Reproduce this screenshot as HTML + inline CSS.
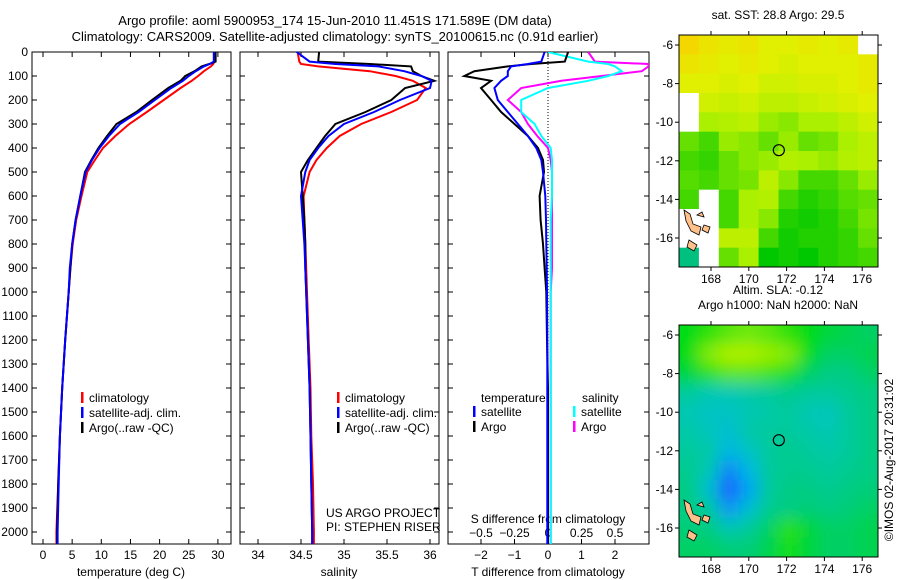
<!DOCTYPE html>
<html><head><meta charset="utf-8"><style>
body{margin:0;background:#fff}
svg{display:block;font-family:"Liberation Sans",sans-serif;font-size:12px}
</style></head><body>
<svg id="fig" width="900" height="580" xmlns="http://www.w3.org/2000/svg">
<text x="335" y="25" text-anchor="middle" font-size="13">Argo profile: aoml 5900953_174 15-Jun-2010 11.451S 171.589E (DM data)</text>
<text x="335" y="41" text-anchor="middle" font-size="13">Climatology: CARS2009. Satellite-adjusted climatology: synTS_20100615.nc (0.91d earlier)</text>
<g id="p1"></g>
<g id="p2"></g>
<g id="p3"></g>
<g id="m1"></g>
<g id="m2"></g>
<text transform="translate(893,460) rotate(-90)" text-anchor="middle">©IMOS 02-Aug-2017 20:31:02</text>
</svg>
<script>
const depth=[0,40,50,60,80,100,120,150,200,250,300,350,400,450,500,600,700,800,900,1000,1200,1400,1600,1800,2000,2050];
const tArgo=[29.6,29.6,28.5,27.2,26,24.4,23.6,21.5,18.7,16,12.6,11,9.5,8.3,7.2,6.4,5.6,5,4.7,4.4,3.8,3.3,2.9,2.6,2.4,2.4];
const tClim=[29.4,29.4,29.2,28.8,27.6,26.6,25.5,23.6,20.7,17.8,14.8,12.4,10.3,8.9,7.6,6.6,5.7,5.1,4.7,4.4,3.8,3.3,2.9,2.6,2.3,2.3];
const tSat=[29.3,29.3,28.6,27.6,26.2,25,24,22,19.2,16.4,13.2,11.3,9.7,8.4,7.3,6.4,5.6,5,4.6,4.4,3.8,3.3,2.9,2.7,2.5,2.5];
const sArgo=[34.71,34.7,35.3,35.78,35.8,35.9,36.05,35.71,35.55,35.25,34.9,34.78,34.68,34.58,34.5,34.52,34.54,34.55,34.55,34.56,34.58,34.6,34.61,34.62,34.63,34.63];
const sClim=[34.46,34.48,34.5,34.7,35.3,35.6,35.8,35.95,35.85,35.55,35.2,34.95,34.8,34.68,34.6,34.53,34.54,34.55,34.56,34.57,34.59,34.61,34.62,34.64,34.65,34.65];
const sSat=[34.45,34.6,34.9,35.4,35.7,35.9,36.02,36.0,35.65,35.35,35.0,34.82,34.7,34.6,34.55,34.5,34.52,34.54,34.55,34.56,34.58,34.6,34.61,34.62,34.63,34.63];
const dTArgo=[0.6,0.5,-0.5,-1.2,-2.2,-2.5,-1.7,-2.0,-1.7,-1.4,-1.0,-0.6,-0.3,-0.15,-0.12,-0.25,-0.22,-0.15,-0.1,-0.05,-0.03,0,0,0,0,0];
const dTSat=[-0.1,-0.2,-0.6,-1.1,-1.2,-1.2,-1.4,-1.6,-1.5,-1.2,-0.9,-0.6,-0.35,-0.2,-0.15,-0.08,-0.06,-0.05,-0.04,-0.03,-0.02,-0.02,-0.02,-0.02,-0.02,-0.02];
const dSArgo=[0.3,0.35,0.75,0.75,0.7,0.4,0.1,-0.2,-0.3,-0.2,-0.15,-0.08,0,0.02,0.03,0.03,0.03,0.03,0.03,0.02,0.02,0.02,0.02,0.02,0.02,0.02];
const dSSat=[0,0.3,0.45,0.5,0.55,0.45,0.3,0,-0.2,-0.2,-0.1,-0.05,0.02,0.03,0.03,0.03,0.02,0.02,0.02,0.02,0.02,0.02,0.02,0.02,0.02,0.02];
const depthTicks=[0,100,200,300,400,500,600,700,800,900,1000,1100,1200,1300,1400,1500,1600,1700,1800,1900,2000];
const tTicks=[0,5,10,15,20,25,30];
const sTicks=[34,34.5,35,35.5,36];
const dTTicks=[-2,-1,0,1,2];
const dSTicks=[-0.5,-0.25,0,0.25,0.5];
const lonTicks=[168,170,172,174,176];
const latTicks=[-6,-8,-10,-12,-14,-16];
const sstGrid=[
[1,.9,.85,.9,.8,.8,.85,.8,.85,-9],
[.9,.85,.8,.85,.8,.75,.8,.8,.8,.85],
[.8,.8,.75,.8,.7,.7,.75,.75,.8,.85],
[-9,.7,.65,.7,.6,.6,.65,.7,.75,.8],
[-9,.5,.55,.6,.45,.4,.5,.5,.6,.7],
[.3,.2,.45,.4,.3,.45,.3,.35,.5,.6],
[.2,.15,.3,.4,.45,.55,.5,.45,.55,.6],
[.25,.2,.3,.35,.6,.4,.2,.2,.3,.45],
[.2,-9,.2,.5,.55,.2,.1,.15,.25,.3],
[-9,-9,.2,.5,.4,.1,.05,.1,.2,.35],
[-9,-9,.6,.6,.2,.05,.1,.1,.15,.3],
[-0.3,-9,.3,.5,0,.05,0,.1,.15,.2]];
const slaGrid=[
[.5,.6,.7,.75,.7,.6,.5,.4,.35,.3],
[.5,.8,.9,.9,.85,.8,.5,.3,.3,.35],
[.4,.6,.7,.7,.65,.55,.3,.2,.2,.3],
[.1,0,0,.05,.1,.15,.1,.1,.15,.2],
[0,-.1,-.1,0,.05,.1,0,-.05,.1,.2],
[.05,-.05,-.2,.05,.1,.1,.05,0,.1,.2],
[.1,.05,-.3,-.1,.1,.15,.1,.05,.1,.2],
[.15,0,-.7,-.3,.1,.15,.15,.1,.15,.2],
[.2,-.2,-1,-.5,.1,.2,.2,.15,.2,.25],
[.2,.1,-.6,-.2,.15,.2,.25,.2,.25,.3],
[.25,.2,0,.1,.3,.6,.4,.3,.3,.35],
[.3,.3,.25,.25,.35,.55,.4,.3,.3,.35]];
const floatLon=171.589, floatLat=-11.451;

const NS="http://www.w3.org/2000/svg";
function mk(parent,tag,attrs,txt){const e=document.createElementNS(NS,tag);for(const k in attrs)e.setAttribute(k,attrs[k]);if(txt!==undefined)e.textContent=txt;parent.appendChild(e);return e;}
const yD=d=>52+d*0.24;
const TOP=52,BOT=544;
function panel(g,x0,x1,name){
  const r=mk(g,'rect',{x:x0,y:TOP,width:x1-x0,height:BOT-TOP,fill:'none',stroke:'#000','stroke-width':1});
  
  
}
function line(g,xs,xf,color,name,w){
  let d='';xs.forEach((v,i)=>{d+=(i?'L':'M')+xf(v).toFixed(1)+','+yD(depth[i]).toFixed(1);});
  const p=mk(g,'path',{d:d,fill:'none',stroke:color,'stroke-width':w||2});
  
  
}
function xticks(g,ticks,xf,labelY,fmt){
  ticks.forEach(t=>{const x=xf(t);mk(g,'line',{x1:x,x2:x,y1:BOT,y2:BOT-5,stroke:'#000'});mk(g,'line',{x1:x,x2:x,y1:TOP,y2:TOP+5,stroke:'#000'});
    const tx=mk(g,'text',{x:x,y:labelY,'text-anchor':'middle'},fmt?fmt(t):String(t).replace('-','\u2212'));
    
    });
}
function legend(g,x,y,items){items.forEach((it,i)=>{mk(g,'rect',{x:x,y:y+i*15-10,width:2.5,height:11,fill:it[0]});
  const t=mk(g,'text',{x:x+8,y:y+i*15},it[1]);
  
  });}

// Panel 1
const p1=document.getElementById('p1');
const xT=v=>43+v*5.83;
panel(p1,32,231,'temperature');
depthTicks.forEach(d=>{const y=yD(d);mk(p1,'line',{x1:32,x2:37,y1:y,y2:y,stroke:'#000'});mk(p1,'line',{x1:231,x2:226,y1:y,y2:y,stroke:'#000'});
  const t=mk(p1,'text',{x:28,y:y+4,'text-anchor':'end'},String(d));
  
  });
xticks(p1,tTicks,xT,559);
line(p1,tClim,xT,'#ff0000','temp-climatology-line');
line(p1,tArgo,xT,'#000','temp-argo-line');
line(p1,tSat,xT,'#0000ff','temp-satellite-line');
legend(p1,81,402,[['#f00','climatology'],['#00f','satellite-adj. clim.'],['#000','Argo(..raw -QC)']]);
mk(p1,'text',{x:131,y:576,'text-anchor':'middle'},'temperature (deg C)');

// Panel 2
const p2=document.getElementById('p2');
const xS=v=>258+(v-34)*86;
panel(p2,240,439,'salinity');
depthTicks.forEach(d=>{const y=yD(d);mk(p2,'line',{x1:240,x2:245,y1:y,y2:y,stroke:'#000'});mk(p2,'line',{x1:439,x2:434,y1:y,y2:y,stroke:'#000'});});
xticks(p2,sTicks,xS,559);
line(p2,sClim,xS,'#ff0000','sal-climatology-line');
line(p2,sArgo,xS,'#000','sal-argo-line');
line(p2,sSat,xS,'#0000ff','sal-satellite-line');
legend(p2,337,402,[['#f00','climatology'],['#00f','satellite-adj. clim.'],['#000','Argo(..raw -QC)']]);
mk(p2,'text',{x:326,y:517},'US ARGO PROJECT');
mk(p2,'text',{x:326,y:531},'PI: STEPHEN RISER');
mk(p2,'text',{x:339,y:576,'text-anchor':'middle'},'salinity');

// Panel 3
const p3=document.getElementById('p3');
const xDT=v=>548+v*33.5, xDS=v=>548+v*134;
const cp=mk(mk(p3,'defs',{}),'clipPath',{id:'c3'});mk(cp,'rect',{x:448,y:TOP,width:201,height:BOT-TOP});
panel(p3,448,649,'difference');
mk(p3,'line',{x1:548,x2:548,y1:TOP,y2:400,stroke:'#000','stroke-dasharray':'1,2'});
depthTicks.forEach(d=>{const y=yD(d);mk(p3,'line',{x1:448,x2:453,y1:y,y2:y,stroke:'#000'});mk(p3,'line',{x1:649,x2:644,y1:y,y2:y,stroke:'#000'});});
xticks(p3,dTTicks,xDT,559);
dSTicks.forEach(t=>{const tx=mk(p3,'text',{x:xDS(t),y:537,'text-anchor':'middle'},String(t).replace('-','\u2212'));
  
  });
mk(p3,'text',{x:548,y:523,'text-anchor':'middle'},'S difference from climatology');
const g3=mk(p3,'g',{'clip-path':'url(#c3)'});
line(g3,dSArgo,xDS,'#ff00ff','sdiff-argo-line');
line(g3,dSSat,xDS,'#00ffff','sdiff-satellite-line');
line(g3,dTArgo,xDT,'#000','tdiff-argo-line');
line(g3,dTSat,xDT,'#0000ff','tdiff-satellite-line');
mk(p3,'text',{x:481,y:402},'temperature');mk(p3,'text',{x:582,y:402},'salinity');
legend(p3,473,416,[['#00f','satellite'],['#000','Argo']]);
legend(p3,573,416,[['#0ff','satellite'],['#f0f','Argo']]);
mk(p3,'text',{x:548,y:576,'text-anchor':'middle'},'T difference from climatology');

// Maps
function lerp(a,b,t){return a.map((v,i)=>Math.round(v+(b[i]-v)*t));}
function sstCol(v){if(v<-5)return '#ffffff';if(v<0)return 'rgb(0,192,128)';
  const s=[[0,[0,200,0]],[0.5,[170,240,0]],[0.8,[225,240,0]],[1,[245,215,0]]];
  for(let i=1;i<s.length;i++)if(v<=s[i][0]){const t=(v-s[i-1][0])/(s[i][0]-s[i-1][0]);return 'rgb('+lerp(s[i-1][1],s[i][1],t)+')';}return 'rgb(245,215,0)';}
function slaCol(v){const s=[[-1,[20,90,255]],[-0.4,[0,180,240]],[0,[0,200,180]],[0.25,[0,205,120]],[0.5,[0,220,20]],[1,[220,245,0]]];
  for(let i=1;i<s.length;i++)if(v<=s[i][0]){const t=(v-s[i-1][0])/(s[i][0]-s[i-1][0]);return 'rgb('+lerp(s[i-1][1],s[i][1],t)+')';}return 'rgb(220,245,0)';}
function map(id,y0,grid,colf,blur,titles){
  const g=document.getElementById(id);const X0=679,X1=878,Y1=y0+232;
  const lx=v=>711+(v-168)*18.9, ly=v=>y0+10+(-6-v)*19.3;
  const defs=mk(g,'defs',{});const c=mk(defs,'clipPath',{id:'cl'+id});mk(c,'rect',{x:X0,y:y0,width:X1-X0,height:Y1-y0});
  if(blur){const f=mk(defs,'filter',{id:'bl'+id,x:'-10%',y:'-10%',width:'120%',height:'120%'});mk(f,'feGaussianBlur',{stdDeviation:8});}
  const gc=mk(g,'g',{'clip-path':'url(#cl'+id+')'});const gi=mk(gc,'g',blur?{filter:'url(#bl'+id+')'}:{});
  const cw=(X1-X0)/10,ch=(Y1-y0)/12;
  mk(gi,'rect',{x:X0-20,y:y0-20,width:X1-X0+40,height:Y1-y0+40,fill:colf(grid[0][0])});
  grid.forEach((row,r)=>row.forEach((v,cc)=>{const cell=mk(gi,'rect',{x:X0+cc*cw-(blur?(cc==0?20:0):0),y:y0+r*ch-(blur&&r==0?20:0),width:cw+(blur&&cc==9?20:0)+(blur&&cc==0?20:0)+0.5,height:ch+(blur&&(r==0||r==11)?20:0)+0.5,fill:colf(v)});
    
    }));
  mk(gc,'path',{d:`M${X0+5},${y0+175} l6,4 l3,10 l8,3 l-2,8 l-8,-4 l-5,-10 z M${X0+25},${y0+190} l6,2 l-2,6 l-6,-3z M${X0+10},${y0+205} l8,5 l-3,6 l-7,-4z M${X0+18},${y0+180} l5,-3 l2,5z`,fill:'#ffc08a',stroke:'#000','stroke-width':0.8});
  const circ=mk(g,'circle',{cx:lx(floatLon),cy:ly(floatLat),r:5.5,fill:'none',stroke:'#000','stroke-width':1.2});
  
  
  mk(g,'rect',{x:X0,y:y0,width:X1-X0,height:Y1-y0,fill:'none',stroke:'#000'});
  lonTicks.forEach(t=>{const x=lx(t);mk(g,'line',{x1:x,x2:x,y1:y0,y2:y0-4,stroke:'#000'});mk(g,'line',{x1:x,x2:x,y1:Y1,y2:Y1+4,stroke:'#000'});
    const tx=mk(g,'text',{x:x,y:Y1+16,'text-anchor':'middle'},String(t));
    
    });
  latTicks.forEach(t=>{const y=ly(t);mk(g,'line',{x1:X0,x2:X0-4,y1:y,y2:y,stroke:'#000'});mk(g,'line',{x1:X1,x2:X1+4,y1:y,y2:y,stroke:'#000'});
    const tx=mk(g,'text',{x:X0-6,y:y+4,'text-anchor':'end'},'-'+(-t));
    
    });
  titles.forEach((s,i)=>{const t=mk(g,'text',{x:778,y:y0-16-(titles.length-1-i)*15,'text-anchor':'middle'},s);
    
    });
}
map('m1',35,sstGrid,sstCol,false,['sat. SST: 28.8 Argo: 29.5']);
map('m2',325,slaGrid,slaCol,true,['Altim. SLA: -0.12','Argo h1000: NaN h2000: NaN']);
</script>
</body></html>
